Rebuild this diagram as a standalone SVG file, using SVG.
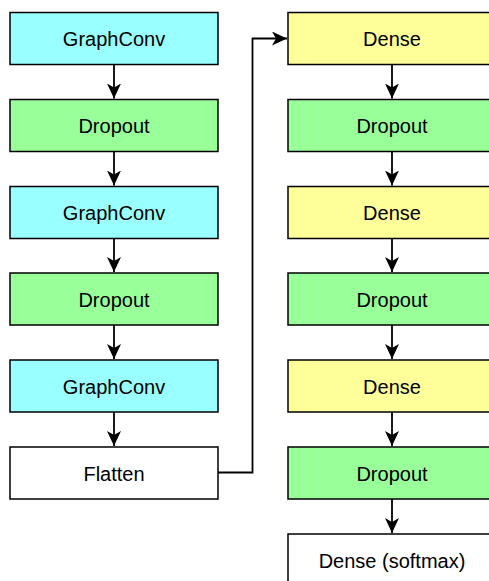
<svg xmlns="http://www.w3.org/2000/svg" width="489" height="581" viewBox="0 0 489 581">
  <style>
    .box { stroke: #000; stroke-width: 1.5; }
    .conv { fill: #99ffff; }
    .drop { fill: #99ff99; }
    .dense { fill: #ffff99; }
    .plain { fill: #ffffff; }
    .lbl { font-family: "Liberation Sans", Arial, Helvetica, sans-serif; font-size: 20px; fill: #000; text-anchor: middle; }
    .edge { fill: none; stroke: #000; stroke-width: 1.8; }
  </style>
  <defs>
    <marker id="arrow" markerUnits="userSpaceOnUse" viewBox="0 0 15 14" refX="15" refY="7" markerWidth="15" markerHeight="14" orient="auto">
      <path d="M0,0 L15,7 L0,14 L4,7 Z" fill="#000"/>
    </marker>
  </defs>
  <rect width="489" height="581" fill="#ffffff"/>

  <!-- left column -->
  <g id="graphconv1"><rect class="box conv" x="10" y="12.5" width="208" height="52"/><text class="lbl" x="114" y="46">GraphConv</text></g>
  <g id="dropout1"><rect class="box drop" x="10" y="99.5" width="208" height="52"/><text class="lbl" x="114" y="133">Dropout</text></g>
  <g id="graphconv2"><rect class="box conv" x="10" y="186.5" width="208" height="52"/><text class="lbl" x="114" y="220">GraphConv</text></g>
  <g id="dropout2"><rect class="box drop" x="10" y="273" width="208" height="52"/><text class="lbl" x="114" y="306.5">Dropout</text></g>
  <g id="graphconv3"><rect class="box conv" x="10" y="360" width="208" height="52"/><text class="lbl" x="114" y="393.5">GraphConv</text></g>
  <g id="flatten"><rect class="box plain" x="10" y="447" width="208" height="52"/><text class="lbl" x="114" y="480.5">Flatten</text></g>

  <!-- right column -->
  <g id="dense1"><rect class="box dense" x="288" y="12.5" width="208" height="52"/><text class="lbl" x="392" y="46">Dense</text></g>
  <g id="dropout3"><rect class="box drop" x="288" y="99.5" width="208" height="52"/><text class="lbl" x="392" y="133">Dropout</text></g>
  <g id="dense2"><rect class="box dense" x="288" y="186.5" width="208" height="52"/><text class="lbl" x="392" y="220">Dense</text></g>
  <g id="dropout4"><rect class="box drop" x="288" y="273" width="208" height="52"/><text class="lbl" x="392" y="306.5">Dropout</text></g>
  <g id="dense3"><rect class="box dense" x="288" y="360" width="208" height="52"/><text class="lbl" x="392" y="393.5">Dense</text></g>
  <g id="dropout5"><rect class="box drop" x="288" y="447" width="208" height="52"/><text class="lbl" x="392" y="480.5">Dropout</text></g>
  <g id="dense_softmax"><rect class="box plain" x="288" y="534" width="208" height="52"/><text class="lbl" x="392" y="567.5">Dense (softmax)</text></g>

  <!-- connectors -->
  <g id="edges">
    <path class="edge" d="M114,64.5 V98.5" marker-end="url(#arrow)"/>
    <path class="edge" d="M114,151.5 V185.5" marker-end="url(#arrow)"/>
    <path class="edge" d="M114,238.5 V272" marker-end="url(#arrow)"/>
    <path class="edge" d="M114,325 V359" marker-end="url(#arrow)"/>
    <path class="edge" d="M114,412 V446" marker-end="url(#arrow)"/>
    <path class="edge" d="M218,472.5 H252.5 V38.5 H287" marker-end="url(#arrow)"/>
    <path class="edge" d="M392,64.5 V98.5" marker-end="url(#arrow)"/>
    <path class="edge" d="M392,151.5 V185.5" marker-end="url(#arrow)"/>
    <path class="edge" d="M392,238.5 V272" marker-end="url(#arrow)"/>
    <path class="edge" d="M392,325 V359" marker-end="url(#arrow)"/>
    <path class="edge" d="M392,412 V446" marker-end="url(#arrow)"/>
    <path class="edge" d="M392,499 V533" marker-end="url(#arrow)"/>
  </g>
</svg>
